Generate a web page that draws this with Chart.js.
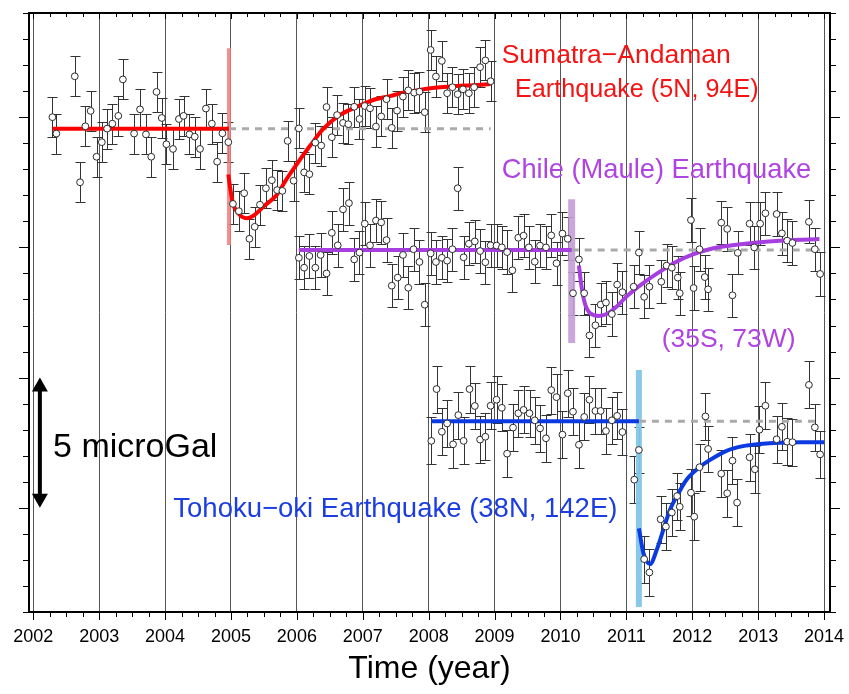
<!DOCTYPE html>
<html><head><meta charset="utf-8">
<script src="https://cdn.jsdelivr.net/npm/chart.js@4.4.0/dist/chart.umd.min.js"></script>
<style>html,body{margin:0;padding:0;background:#fff}</style>
</head><body>
<canvas id="c" width="849" height="694" style="width:849px;height:694px;display:block"></canvas>
<script>
// ---------------- DATA ----------------
const yearTicks = [2002,2003,2004,2005,2006,2007,2008,2009,2010,2011,2012,2013,2014];

// Sumatra-Andaman (microGal, arbitrary offset)
const sumT = [2002.29,2002.35,2002.63,2002.71,2002.79,2002.87,2002.96,
 2003.04,2003.12,2003.20,2003.29,2003.36,2003.53,2003.62,2003.71,2003.79,2003.87,2003.95,
 2004.02,2004.12,2004.21,2004.28,2004.37,2004.45,2004.53,2004.62,2004.71,2004.79,2004.87,2004.96,
 2005.03,2005.12,2005.20,2005.28,2005.36,2005.44,2005.53,2005.62,2005.70,2005.78,2005.86,2005.95,
 2006.03,2006.11,2006.19,2006.28,2006.37,2006.45,2006.53,2006.61,2006.70,2006.78,2006.87,2006.95,
 2007.03,2007.11,2007.20,2007.28,2007.36,2007.44,2007.52,2007.61,2007.69,2007.78,2007.86,2007.94,
 2008.03,2008.11,2008.20,2008.28,2008.36,2008.44,2008.52,2008.61,2008.69,2008.78,2008.86,2008.94];
const sumV = [15.0,14.37,16.57,12.5,14.65,15.24,13.48,
 14.04,14.56,14.75,15.05,16.45,14.37,15.3,14.34,13.48,15.97,14.97,
 13.96,13.78,14.93,15.05,14.34,14.25,13.78,15.33,14.75,13.29,14.38,14.04,
 11.67,11.39,12.08,10.33,10.79,11.64,12.27,12.58,12.2,12.17,14.09,12.56,
 14.57,12.88,12.81,14.02,13.91,15.39,14.23,15.08,14.78,14.73,15.4,14.93,
 15.43,15.34,14.64,15.03,15.69,14.59,15.25,15.79,16.03,15.94,15.98,15.19,
 17.58,16.56,17.16,15.92,16.15,15.88,16.07,15.92,16.15,16.92,17.18,16.38];
const sumErr = 0.77;
const sumPreT = [2002.29, 2004.97];
const sumPreV = [14.56, 14.56];
const sumPostT = [2004.96,2004.985,2005.03,2005.11,2005.24,2005.36,2005.49,2005.69,2005.85,2006.0,2006.2,2006.4,2006.65,2006.91,2007.16,2007.41,2007.67,2007.92,2008.17,2008.42,2008.68,2008.94];
const sumPostV = [12.8,12.33,11.69,11.31,11.12,11.25,11.56,12.0,12.65,13.2,13.9,14.55,15.08,15.4,15.66,15.81,15.97,16.07,16.15,16.2,16.23,16.27];
const sumRefT = [2004.97, 2008.94];
const sumRefV = [14.56, 14.56];
const sumEventT = [2004.97, 2004.97];
const sumEventV = [10.09, 17.65];

// Chile (Maule)
const chT = [2006.03,2006.11,2006.19,2006.28,2006.36,2006.45,2006.53,2006.62,2006.70,2006.79,2006.87,2006.95,
 2007.03,2007.11,2007.20,2007.28,2007.36,2007.44,2007.53,2007.61,2007.69,2007.77,2007.86,2007.94,
 2008.03,2008.11,2008.20,2008.28,2008.36,2008.44,2008.53,2008.61,2008.70,2008.78,2008.86,2008.94,
 2009.03,2009.11,2009.19,2009.27,2009.36,2009.44,2009.52,2009.61,2009.69,2009.78,2009.86,2009.94,
 2010.03,2010.11,2010.19,2010.28,2010.36,2010.44,2010.53,2010.61,2010.69,2010.78,2010.86,2010.94,
 2011.11,2011.19,2011.27,2011.35,2011.53,2011.61,2011.69,2011.78,2011.81,2011.98,
 2012.02,2012.11,2012.19,2012.24,2012.44,2012.53,2012.61,2012.69,2012.87,2012.94,
 2013.03,2013.11,2013.28,2013.36,2013.44,2013.52,2013.77,2013.86,2013.94];
const chV = [9.60,9.22,9.67,9.22,9.71,9.0,10.56,10.08,11.46,11.7,9.54,9.8,
 10.91,10.08,11.03,10.96,10.28,8.53,8.84,9.71,8.45,9.93,9.44,7.8,
 9.77,9.44,9.6,9.49,9.93,12.27,9.62,10.14,10.23,9.86,9.43,10.08,
 10.07,10.0,9.82,9.12,10.37,10.45,10.0,9.45,10.07,10.0,10.46,9.39,
 10.53,10.33,8.24,9.54,8.24,6.62,7.01,7.8,7.88,7.44,8.57,8.28,
 8.49,9.8,8.1,8.49,8.68,9.3,9.22,8.84,8.24,11.05,
 8.44,9.93,8.86,8.39,10.95,10.71,8.16,9.79,10.91,10.0,
 10.91,11.31,11.28,10.54,10.26,10.17,10.98,9.93,8.98];
const chErr = 0.83;
const chPreT = [2006.03, 2010.17];
const chPreV = [9.9, 9.9];
const chPostT = [2010.28,2010.32,2010.37,2010.45,2010.58,2010.70,2010.85,2011.0,2011.25,2011.51,2011.76,2012.01,2012.26,2012.52,2012.77,2013.03,2013.28,2013.53,2013.93];
const chPostV = [9.3,8.49,7.85,7.47,7.37,7.44,7.72,8.11,8.62,9.07,9.45,9.73,9.93,10.05,10.13,10.2,10.25,10.28,10.32];
const chRefT = [2010.17, 2013.94];
const chRefV = [9.9, 9.9];
const chEventT = [2010.17, 2010.17];
const chEventV = [6.33, 11.85];

// Tohoku-oki
const thT = [2008.04,2008.12,2008.20,2008.28,2008.37,2008.45,2008.53,2008.62,2008.70,2008.78,2008.86,2008.94,
 2009.03,2009.11,2009.19,2009.28,2009.36,2009.44,2009.53,2009.61,2009.69,2009.78,2009.86,2009.94,
 2010.03,2010.11,2010.19,2010.28,2010.36,2010.44,2010.53,2010.61,2010.69,2010.78,2010.86,2010.94,
 2011.12,2011.19,2011.27,2011.35,2011.52,2011.60,2011.69,2011.77,2011.81,2011.98,
 2012.03,2012.11,2012.20,2012.24,2012.44,2012.53,2012.61,2012.68,2012.87,2012.95,
 2013.02,2013.11,2013.28,2013.36,2013.44,2013.52,2013.77,2013.86,2013.94];
const thV = [2.57,4.56,2.92,3.24,2.44,3.56,2.57,4.56,3.91,2.62,2.73,3.92,
 4.15,3.84,2.08,3.08,3.63,3.76,3.63,3.36,3.05,2.67,4.52,4.25,
 2.81,4.4,3.69,2.42,3.49,4.15,3.72,3.72,2.95,3.36,3.53,2.91,
 1.08,2.22,-1.97,-2.48,-0.44,-0.72,-0.18,0.45,0.04,0.58,
 -0.34,1.56,3.51,2.26,1.31,0.56,1.81,0.2,1.94,1.48,
 3.0,3.92,2.63,3.11,2.54,2.52,4.72,3.09,2.05];
const thErr = 0.9;
const thPreT = [2008.04, 2011.19];
const thPreV = [3.32, 3.32];
const thPostT = [2011.19,2011.26,2011.36,2011.46,2011.56,2011.66,2011.79,2011.91,2012.09,2012.27,2012.52,2012.77,2013.03,2013.33,2013.64,2014.0];
const thPostV = [-0.79,-1.75,-2.16,-1.62,-0.85,-0.08,0.56,1.07,1.52,1.84,2.19,2.37,2.45,2.5,2.52,2.52];
const thRefT = [2011.19, 2013.93];
const thRefV = [3.32, 3.32];
const thEventT = [2011.19, 2011.19];
const thEventV = [-3.81, 5.29];

// texts
const labelTexts = ['Sumatra\u2212Andaman','Earthquake (5N, 94E)','Chile (Maule) Earthquake','(35S, 73W)','Tohoku\u2212oki Earthquake (38N, 142E)','5 microGal'];
const scaleArrowV = [0, 5];
const xTitle = 'Time (year)';

// ---------------- STYLE / LAYOUT ----------------
const FONT = '"Liberation Sans", Arial, Helvetica, sans-serif';
const xMin = 2001.935, xMax = 2014.09, yMin = -4, yMax = 19;
const labelPos = [
  {x:2009.108, y:17.07, color:'#f41414', size:26.5},
  {x:2009.31,  y:15.79, color:'#f41414', size:25.2},
  {x:2009.108, y:12.65, color:'#b044e0', size:27.3},
  {x:2011.535, y:6.19,  color:'#b044e0', size:26.5},
  {x:2004.125, y:-0.34, color:'#1c3de0', size:27.5},
  {x:2002.30,  y:1.95,  color:'#000000', size:34}
];
const arrowX = 2002.10;

const pts = (t, v) => t.map((x, i) => ({x, y: v[i]}));

function pointsDS(t, v, err){
  return {type:'line', data:pts(t,v), showLine:false, errSigma:err,
    pointRadius:3.4, pointHoverRadius:3.4, pointBackgroundColor:'#ffffff',
    pointBorderColor:'#2a2a2a', pointBorderWidth:1, order:0};
}
function lineDS(t, v, color, width, extra){
  return Object.assign({type:'line', data:pts(t,v), borderColor:color, borderWidth:width,
    pointRadius:0, pointHoverRadius:0, fill:false, tension:0, order:1}, extra||{});
}
const smooth = {cubicInterpolationMode:'monotone'};
const dashed = {borderDash:[7,6], order:2};

const datasets = [
  // event bars
  lineDS(sumEventT, sumEventV, 'rgba(240,125,125,0.85)', 4, {order:5}),
  lineDS(chEventT, chEventV, 'rgba(196,156,214,0.9)', 7, {order:5}),
  lineDS(thEventT, thEventV, 'rgba(130,198,232,0.95)', 6, {order:5}),
  // reference dashed
  lineDS(sumRefT, sumRefV, '#aaaaaa', 3, dashed),
  lineDS(chRefT, chRefV, '#aaaaaa', 3, dashed),
  lineDS(thRefT, thRefV, '#aaaaaa', 3, dashed),
  // fits
  lineDS(sumPreT, sumPreV, '#ff0000', 4),
  lineDS(sumPostT, sumPostV, '#ff0000', 4, smooth),
  lineDS(chPreT, chPreV, '#a63ee0', 4),
  lineDS(chPostT, chPostV, '#a63ee0', 4, smooth),
  lineDS(thPreT, thPreV, '#0a3ae0', 4),
  lineDS(thPostT, thPostV, '#0a3ae0', 4, smooth),
  // observations
  pointsDS(sumT, sumV, sumErr),
  pointsDS(chT, chV, chErr),
  pointsDS(thT, thV, thErr)
];

const errorBarPlugin = {
  id:'errorBars',
  beforeDatasetsDraw(chart){
    const {ctx, chartArea:a, scales:{x, y}} = chart;
    ctx.save();
    ctx.beginPath(); ctx.rect(a.left, a.top, a.right-a.left, a.bottom-a.top); ctx.clip();
    ctx.strokeStyle = '#333'; ctx.lineWidth = 1;
    chart.data.datasets.forEach(ds => {
      if (!ds.errSigma) return;
      ds.data.forEach(p => {
        const px = Math.round(x.getPixelForValue(p.x)) + 0.5;
        const y1 = Math.round(y.getPixelForValue(p.y - ds.errSigma)) + 0.5;
        const y2 = Math.round(y.getPixelForValue(p.y + ds.errSigma)) + 0.5;
        ctx.beginPath();
        ctx.moveTo(px, y1); ctx.lineTo(px, y2);
        ctx.moveTo(px-5, y1); ctx.lineTo(px+5, y1);
        ctx.moveTo(px-5, y2); ctx.lineTo(px+5, y2);
        ctx.stroke();
      });
    });
    ctx.restore();
  }
};

const annotPlugin = {
  id:'annot',
  afterDatasetsDraw(chart){
    const {ctx, scales:{x, y}} = chart;
    ctx.save();
    labelTexts.forEach((t, i) => {
      const p = labelPos[i];
      ctx.font = p.size + 'px ' + FONT;
      ctx.fillStyle = p.color;
      ctx.textAlign = 'left'; ctx.textBaseline = 'alphabetic';
      ctx.fillText(t, x.getPixelForValue(p.x), y.getPixelForValue(p.y));
    });
    // scale arrow
    const ax = x.getPixelForValue(arrowX);
    const yb = y.getPixelForValue(scaleArrowV[0]);
    const yt = y.getPixelForValue(scaleArrowV[1]);
    const hl = 14, hw = 8;
    ctx.fillStyle = '#000'; ctx.strokeStyle = '#000'; ctx.lineWidth = 4;
    ctx.beginPath(); ctx.moveTo(ax, yt + hl - 2); ctx.lineTo(ax, yb - hl + 2); ctx.stroke();
    ctx.beginPath(); ctx.moveTo(ax, yt); ctx.lineTo(ax - hw, yt + hl); ctx.lineTo(ax + hw, yt + hl); ctx.closePath(); ctx.fill();
    ctx.beginPath(); ctx.moveTo(ax, yb); ctx.lineTo(ax - hw, yb - hl); ctx.lineTo(ax + hw, yb - hl); ctx.closePath(); ctx.fill();
    ctx.restore();
  }
};

const framePlugin = {
  id:'frame',
  afterDraw(chart){
    const {ctx, chartArea:a, scales:{x, y}} = chart;
    ctx.save();
    ctx.strokeStyle = '#000'; ctx.lineWidth = 1;
    ctx.beginPath();
    for (let v = yMin; v <= yMax; v++) {
      const py = Math.round(y.getPixelForValue(v)) + 0.5;
      const L = (v % 5 === 0) ? 10 : 6;
      ctx.moveTo(a.left, py); ctx.lineTo(a.left - L, py);
      ctx.moveTo(a.right, py); ctx.lineTo(a.right + L, py);
    }
    for (let q = yearTicks[0]*4; q <= yearTicks[yearTicks.length-1]*4; q++) {
      const px = Math.round(x.getPixelForValue(q/4)) + 0.5;
      const major = q % 4 === 0;
      ctx.moveTo(px, a.bottom); ctx.lineTo(px, a.bottom + (major ? 8 : 5));
      ctx.moveTo(px, a.top); ctx.lineTo(px, a.top + (major ? 6 : 4));
    }
    ctx.stroke();
    ctx.lineWidth = 2;
    ctx.strokeRect(a.left, a.top, a.right - a.left, a.bottom - a.top);
    ctx.restore();
  }
};

new Chart(document.getElementById('c').getContext('2d'), {
  type:'line',
  data:{datasets},
  options:{
    responsive:false, animation:false, devicePixelRatio:1,
    layout:{padding:{top:13, left:0, right:0, bottom:0}},
    plugins:{legend:{display:false}, tooltip:{enabled:false}},
    scales:{
      x:{type:'linear', position:'bottom', min:xMin, max:xMax,
        afterBuildTicks:s => { s.ticks = yearTicks.map(v => ({value:v})); },
        afterFit:s => { s.height = 82; s.paddingLeft = 0; s.paddingRight = 0; },
        grid:{display:true, color:'#555555', lineWidth:1, drawTicks:false},
        border:{display:false},
        ticks:{callback:v => String(v), color:'#000', font:{family:FONT, size:18}, padding:14, maxRotation:0, autoSkip:false},
        title:{display:true, text:xTitle, color:'#000', font:{family:FONT, size:32}, padding:{top:0, bottom:6}}
      },
      y:{type:'linear', position:'left', min:yMin, max:yMax,
        afterFit:s => { s.width = 29; s.paddingTop = 0; s.paddingBottom = 0; },
        ticks:{display:false}, grid:{display:false}, border:{display:false}},
      yR:{type:'linear', position:'right', min:yMin, max:yMax,
        afterFit:s => { s.width = 19; s.paddingTop = 0; s.paddingBottom = 0; },
        ticks:{display:false}, grid:{display:false}, border:{display:false}}
    }
  },
  plugins:[errorBarPlugin, annotPlugin, framePlugin]
});
</script>
</body></html>
